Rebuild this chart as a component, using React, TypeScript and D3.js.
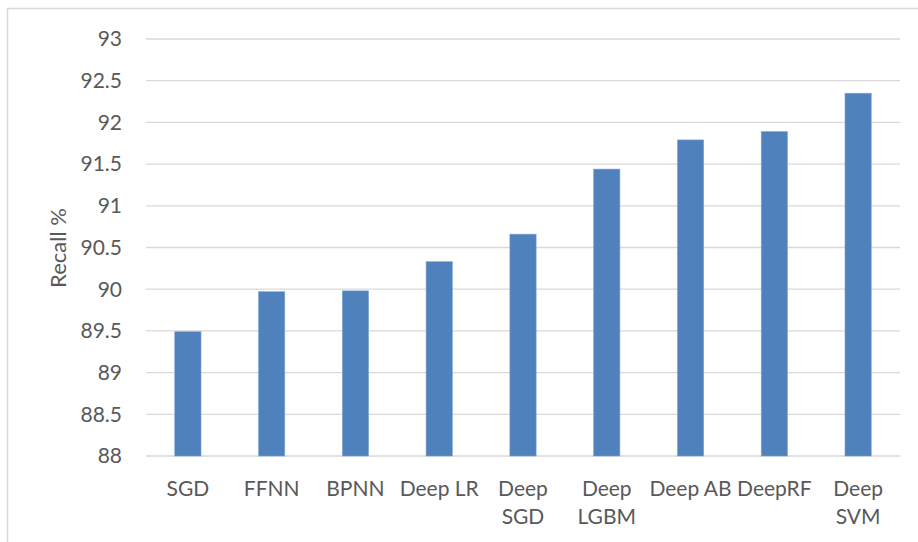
import React from "react";
import * as d3 from "d3";

const categories = ["SGD", "FFNN", "BPNN", "Deep LR", "Deep SGD", "Deep LGBM", "Deep AB", "DeepRF", "Deep SVM"];
const labelLines = [["SGD"], ["FFNN"], ["BPNN"], ["Deep LR"], ["Deep", "SGD"], ["Deep", "LGBM"], ["Deep AB"], ["DeepRF"], ["Deep", "SVM"]];
const recall = [89.49, 89.97, 89.98, 90.33, 90.66, 91.44, 91.79, 91.89, 92.35];
const yTicks = [88, 88.5, 89, 89.5, 90, 90.5, 91, 91.5, 92, 92.5, 93];

const W = 918;
const H = 542;
const plotLeft = 146;
const plotRight = 900;
const plotTop = 39;
const plotBottom = 456;
const font = "Lato, 'Open Sans', sans-serif";
const textColor = "#595959";

export default function App() {
  const x = d3.scaleBand<string>().domain(categories).range([plotLeft, plotRight]).padding(0);
  const y = d3.scaleLinear().domain([88, 93]).range([plotBottom, plotTop]);
  const barW = x.bandwidth() / 3.19;

  return (
    <svg width={W} height={H} style={{ position: "absolute", left: 0, top: 0, background: "#fff" }}>
      <rect x={7.5} y={8.5} width={W + 10} height={H + 10} fill="#fff" stroke="#d9d9d9" strokeWidth={1.5} />
      {yTicks.map((t) => (
        <g key={t}>
          <line x1={plotLeft} x2={plotRight} y1={y(t)} y2={y(t)} stroke="#d9d9d9" strokeWidth={1.3} />
          <text x={122} y={y(t)} dy="0.35em" textAnchor="end" fontFamily={font} fontSize={21} fill={textColor}>
            {t}
          </text>
        </g>
      ))}
      {categories.map((c, i) => {
        const cx = (x(c) as number) + x.bandwidth() / 2;
        return (
          <rect
            key={c}
            x={cx - barW / 2}
            y={y(recall[i])}
            width={barW}
            height={y(88) - y(recall[i])}
            fill="#4f81bd"
            stroke="#7ea6d8"
            strokeWidth={0.6}
          />
        );
      })}
      {categories.map((c, i) => {
        const cx = (x(c) as number) + x.bandwidth() / 2;
        return (
          <text key={c} x={cx} y={496} textAnchor="middle" fontFamily={font} fontSize={21} fill={textColor}>
            {labelLines[i].map((l, j) => (
              <tspan key={j} x={cx} dy={j === 0 ? 0 : 28}>
                {l}
              </tspan>
            ))}
          </text>
        );
      })}
      <text
        transform={`translate(66,248) rotate(-90)`}
        textAnchor="middle"
        fontFamily={font}
        fontSize={22}
        fill={textColor}
      >
        Recall %
      </text>
    </svg>
  );
}
